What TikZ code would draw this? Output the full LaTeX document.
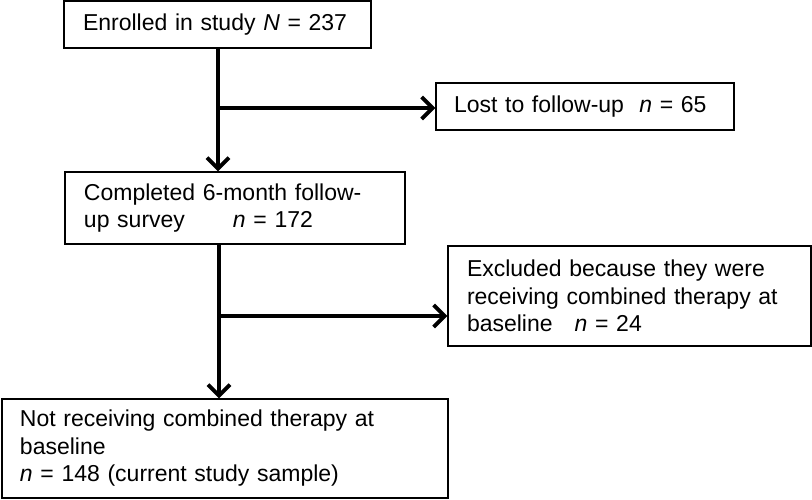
\documentclass[tikz,border=0pt]{standalone}
\usepackage{fontspec}
\setmainfont{Liberation Sans}
\usetikzlibrary{arrows.meta}
\begin{document}
\begin{tikzpicture}[x=1bp,y=-1bp,
  flowbox/.style={draw, line width=1.4bp, align=left, inner sep=0pt,
    font=\fontsize{23bp}{27.5bp}\selectfont},
  flowarrow/.style={line width=3.8bp, -{Straight Barb[length=11bp,width=22bp,line width=3.8bp]}},
  flowline/.style={line width=3.8bp}]
\useasboundingbox (0,0) rectangle (812,500);
\node[flowbox, minimum width=307bp, minimum height=47bp, text width=269bp] (enr) at (217.5,24.5)
  {Enrolled in study \textit{N} = 237};
\node[flowbox, minimum width=298bp, minimum height=47bp, text width=262bp] (lost) at (585,106.5)
  {Lost to follow-up\ \ \textit{n} = 65};
\node[flowbox, minimum width=340bp, minimum height=72bp, text width=302bp] (comp) at (235,208)
  {Completed 6-month follow-\\up survey\hspace{48bp}\textit{n} = 172};
\node[flowbox, minimum width=363bp, minimum height=100bp, text width=325bp] (excl) at (629.5,296)
  {Excluded because they were\\receiving combined therapy at\\baseline\hspace{22bp}\textit{n} = 24};
\node[flowbox, minimum width=446bp, minimum height=99bp, text width=410bp] (samp) at (225,448.5)
  {Not receiving combined therapy at\\baseline\\\textit{n} = 148 (current study sample)};
\coordinate (b1) at (218,108);
\coordinate (c2) at (219,244);
\coordinate (b2) at (219,316);
\draw[flowarrow] (enr.south -| b1) -- (comp.north -| b1);
\draw[flowarrow] (b1) -- (lost.west |- b1);
\draw[flowarrow] (c2) -- (samp.north -| c2);
\draw[flowarrow] (b2) -- (excl.west |- b2);
\end{tikzpicture}
\end{document}
